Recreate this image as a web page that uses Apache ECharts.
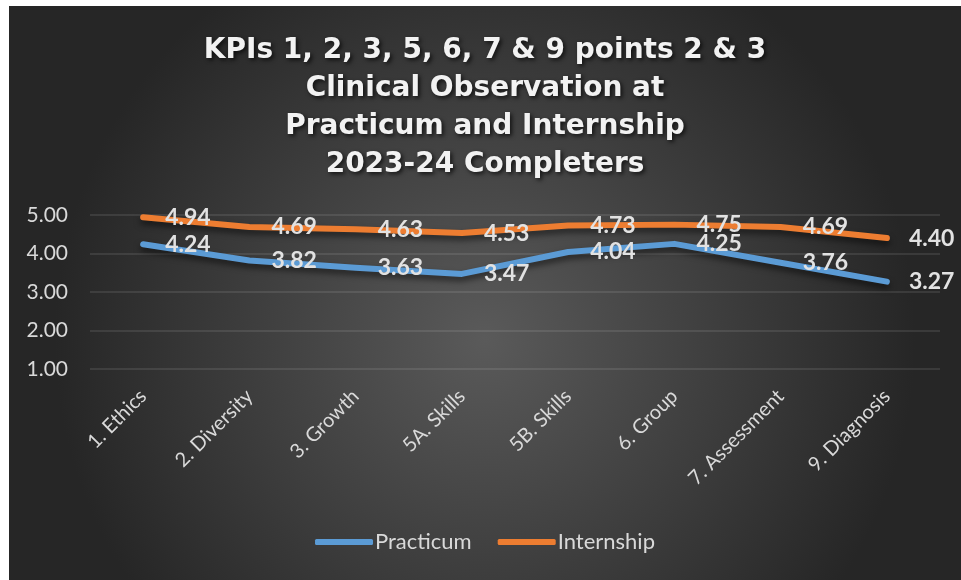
<!DOCTYPE html>
<html>
<head>
<meta charset="utf-8">
<script src="https://cdn.jsdelivr.net/npm/echarts@6/dist/echarts.min.js"></script>
<style>
    html, body { margin: 0; padding: 0; background: #ffffff; }
    #chart { position: absolute; left: 9px; top: 6px; width: 952px; height: 574px; }
</style>
</head>
<body>
<div id="chart"></div>
<script>
// Chart data
const categories = ['1. Ethics', '2. Diversity', '3. Growth', '5A. Skills', '5B. Skills', '6. Group', '7. Assessment', '9. Diagnosis'];
const practicum = [4.24, 3.82, 3.63, 3.47, 4.04, 4.25, 3.76, 3.27];
const internship = [4.94, 4.69, 4.63, 4.53, 4.73, 4.75, 4.69, 4.40];
const yTicks = [1, 2, 3, 4, 5];

const textColor = '#d9d9d9';
const fontFamily = 'Lato, "Open Sans", sans-serif';
const practicumColor = '#5b9bd5';
const internshipColor = '#ed7d31';

const chart = echarts.init(document.getElementById('chart'), null, { renderer: 'canvas' });

const labelOptions = {
    show: true,
    position: 'right',
    distance: 21,
    color: '#e2e2e2',
    fontFamily,
    fontSize: 23,
    fontWeight: 'bold',
    formatter: p => Number(p.value).toFixed(2),
};

function lineSeries(name, data, color) {
    return {
        name,
        type: 'line',
        data,
        // Labels need symbols, so keep them but make them transparent
        symbol: 'circle',
        symbolSize: 2,
        showSymbol: true,
        itemStyle: { color: 'transparent', borderWidth: 0 },
        smooth: false,
        lineStyle: {
            width: 6,
            color,
            cap: 'round',
            join: 'round',
            shadowColor: 'rgba(0,0,0,0.55)',
            shadowBlur: 6,
            shadowOffsetY: 4,
        },
        label: labelOptions,
        labelLayout: { hideOverlap: false },
        emphasis: { disabled: true },
        z: 3,
    };
}

chart.setOption({
    animation: false,
    backgroundColor: {
        type: 'radial',
        x: 0.5, y: 0.58, r: 0.75,
        colorStops: [
            { offset: 0, color: '#5a5a5a' },
            { offset: 1, color: '#262626' },
        ],
    },
    title: {
        text: 'KPIs 1, 2, 3, 5, 6, 7 & 9 points 2 & 3\nClinical Observation at\nPracticum and Internship\n2023-24 Completers',
        left: 'center',
        top: 21,
        textStyle: {
            color: '#f2f2f2',
            fontFamily: '"DejaVu Sans", sans-serif',
            fontSize: 28,
            fontWeight: 'bold',
            lineHeight: 38,
            textShadowColor: 'rgba(0,0,0,0.7)',
            textShadowBlur: 4,
            textShadowOffsetX: 2,
            textShadowOffsetY: 2,
        },
    },
    legend: {
        data: [
            { name: 'Practicum', itemStyle: { color: practicumColor } },
            { name: 'Internship', itemStyle: { color: internshipColor } },
        ],
        bottom: 22,
        left: 'center',
        icon: 'roundRect',
        itemWidth: 58,
        itemHeight: 6,
        itemGap: 26,
        textStyle: { color: textColor, fontFamily, fontSize: 22, padding: [0, 0, 0, -3] },
    },
    grid: { left: 81, right: 21, top: 209, bottom: 211, containLabel: false },
    xAxis: {
        type: 'category',
        data: categories,
        boundaryGap: true,
        axisLine: { show: false },
        axisTick: { show: false },
        axisLabel: {
            rotate: 45,
            margin: 24,
            color: textColor,
            fontFamily,
            fontSize: 20,
            interval: 0,
        },
    },
    yAxis: {
        type: 'value',
        min: yTicks[0],
        max: yTicks[yTicks.length - 1],
        interval: 1,
        axisLine: { show: false },
        axisTick: { show: false },
        axisLabel: {
            margin: 22,
            color: textColor,
            fontFamily,
            fontSize: 21,
            formatter: v => v.toFixed(2),
        },
        splitLine: { lineStyle: { color: 'rgba(255,255,255,0.13)', width: 1.5 } },
    },
    series: [
        lineSeries('Practicum', practicum, practicumColor),
        lineSeries('Internship', internship, internshipColor),
    ],
});
</script>
</body>
</html>
